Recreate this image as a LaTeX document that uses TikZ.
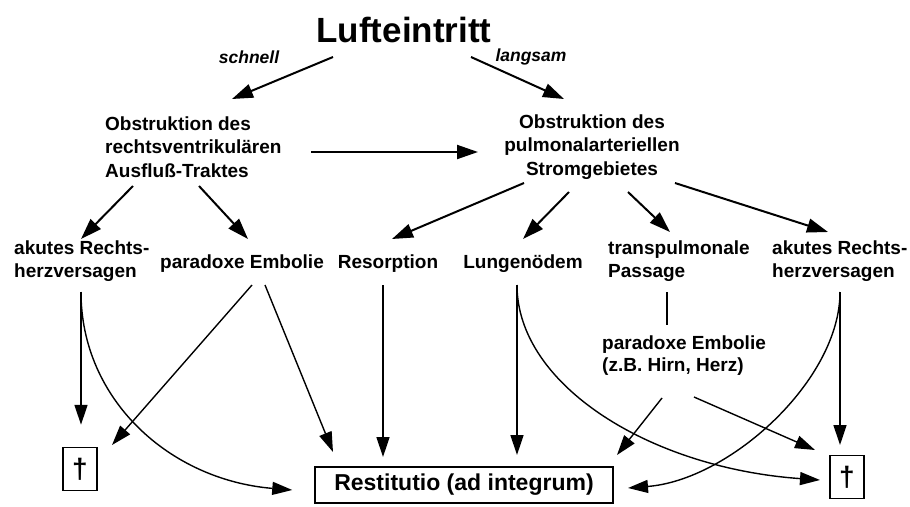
\documentclass[tikz,border=0pt]{standalone}
\usepackage{fontspec}
\setmainfont{Liberation Sans}
\usetikzlibrary{arrows.meta}
\begin{document}
\begin{tikzpicture}[x=1pt,y=-1pt,
  txt/.style={inner sep=0pt,font=\fontsize{19}{23.5}\selectfont\bfseries},
  lbl/.style={inner sep=0pt,font=\fontsize{17.5}{20}\selectfont\bfseries\itshape},
  dag/.style={draw,line width=1.5pt,minimum width=34pt,minimum height=43pt,inner sep=0pt,font=\fontsize{28}{28}\selectfont\bfseries},
  big/.style={-{Triangle[length=21pt,width=14pt]},line width=2pt},
  arr/.style={-{Triangle[length=20pt,width=13pt]},line width=1.4pt},
  thin/.style={line width=1.4pt}]
\useasboundingbox (0,0) rectangle (910,506);
\node[inner sep=0pt,font=\fontsize{35}{40}\selectfont\bfseries] (T) at (404,30) {Lufteintritt};
\node[lbl] (sch) at (249,57) {schnell};
\node[lbl] (lang) at (531,57) {langsam};
\node[txt,align=left,anchor=west] (O1) at (105,147) {Obstruktion des\\rechtsventrikulären\\Ausfluß-Traktes};
\node[txt,align=center] (O2) at (592,147) {Obstruktion des\\pulmonalarteriellen\\Stromgebietes};
\node[txt,align=left,anchor=west,font=\fontsize{19}{23}\selectfont\bfseries] (akL) at (14,261) {akutes Rechts-\\herzversagen};
\node[txt] (pE) at (242,264) {paradoxe Embolie};
\node[txt] (Res) at (388,264) {Resorption};
\node[txt] (Lung) at (523,264) {Lungenödem};
\node[txt,align=left,anchor=west,font=\fontsize{19}{23}\selectfont\bfseries] (tr) at (608,261) {transpulmonale\\Passage};
\node[txt,align=left,anchor=west,font=\fontsize{19}{23}\selectfont\bfseries] (akR) at (772,261) {akutes Rechts-\\herzversagen};
\node[txt,align=left,anchor=west,font=\fontsize{19}{22}\selectfont\bfseries] (pE2) at (602,356) {paradoxe Embolie\\(z.B. Hirn, Herz)};
\node[draw,line width=1.5pt,minimum width=298pt,minimum height=36pt,inner sep=0pt,font=\fontsize{23}{26}\selectfont\bfseries] (Rest) at (464,485) {Restitutio (ad integrum)};
\node[dag] (dL) at (80,469) {†};
\node[dag] (dR) at (847,477) {†};
% top arrows
\draw[big] ([shift={(-71,27)}]T.center) -- ([shift={(127,-48)}]O1.west);
\draw[big] ([shift={(67,27)}]T.center) -- ([shift={(-28,-48)}]O2.center);
\draw[big] ([shift={(206,5)}]O1.west) -- ([shift={(-114,5)}]O2.center);
\draw[big] ([shift={(28,39)}]O1.west) -- ([shift={(67,-22)}]akL.west);
\draw[big] ([shift={(94,39)}]O1.west) -- ([shift={(6,-25)}]pE.center);
\draw[big] ([shift={(-68,36)}]O2.center) -- ([shift={(4,-25)}]Res.center);
\draw[big] ([shift={(-23,45)}]O2.center) -- ([shift={(0,-25)}]Lung.center);
\draw[big] ([shift={(36,45)}]O2.center) -- ([shift={(62,-29)}]tr.west);
\draw[big] ([shift={(83,36)}]O2.center) -- ([shift={(56,-29)}]akR.west);
% lower
\draw[arr] ([shift={(67,31)}]akL.west) -- ([shift={(1,-22)}]dL.north);
\draw[arr] ([shift={(67,31)}]akL.west) .. controls (81,400) and (170,480) .. ([shift={(-22,5)}]Rest.west);
\draw[arr] ([shift={(10,21)}]pE.center) -- ([shift={(32,-24)}]dL.center);
\draw[arr] ([shift={(23,21)}]pE.center) -- ([shift={(-131,-33)}]Rest.center);
\draw[arr] ([shift={(-5,21)}]Res.center) -- ([shift={(-81,-28)}]Rest.center);
\draw[arr] ([shift={(-6,21)}]Lung.center) -- ([shift={(53,-30)}]Rest.center);
\draw[arr] ([shift={(-6,21)}]Lung.center) .. controls (517,385) and (650,468) .. ([shift={(-27,3)}]dR.center);
\draw[thin] ([shift={(59,31)}]tr.west) -- ([shift={(65,-31)}]pE2.west);
\draw[arr] ([shift={(60,42)}]pE2.west) -- ([shift={(153,-30)}]Rest.center);
\draw[arr] ([shift={(92,41)}]pE2.west) -- ([shift={(-32,-27)}]dR.center);
\draw[arr] ([shift={(68,31)}]akR.west) -- ([shift={(-7,-32)}]dR.center);
\draw[arr] ([shift={(68,31)}]akR.west) .. controls (840,380) and (730,480) .. ([shift={(164,3)}]Rest.center);
\end{tikzpicture}
\end{document}
